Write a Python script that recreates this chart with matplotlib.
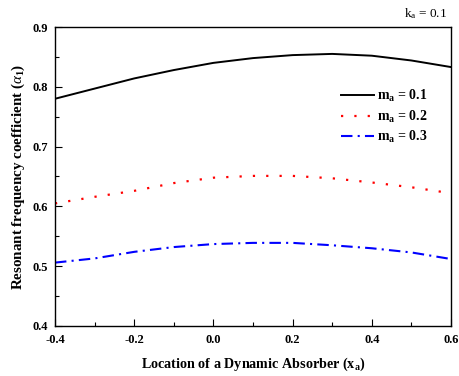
import matplotlib
matplotlib.use("Agg")
import matplotlib.pyplot as plt
from matplotlib.ticker import MultipleLocator, FuncFormatter

plt.rcParams['font.family'] = ['Liberation Serif', 'DejaVu Serif']
plt.rcParams['mathtext.fontset'] = 'custom'
plt.rcParams['mathtext.rm'] = 'Liberation Serif'
plt.rcParams['mathtext.bf'] = 'Liberation Serif:bold'
plt.rcParams['mathtext.it'] = 'Liberation Serif:italic'

x = [-0.4, -0.3, -0.2, -0.1, 0.0, 0.1, 0.2, 0.3, 0.4, 0.5, 0.6]
m01 = [0.780, 0.797, 0.814, 0.828, 0.840, 0.848, 0.853, 0.855, 0.852, 0.844, 0.833]
m02 = [0.605, 0.616, 0.626, 0.639, 0.648, 0.651, 0.651, 0.647, 0.640, 0.632, 0.622]
m03 = [0.506, 0.513, 0.524, 0.532, 0.537, 0.539, 0.539, 0.535, 0.530, 0.523, 0.512]
labels = [r'$\mathbf{m_a}$ = 0.1', r'$\mathbf{m_a}$ = 0.2', r'$\mathbf{m_a}$ = 0.3']

fig = plt.figure(figsize=(4.6, 3.76), dpi=100)
ax = fig.add_axes([55/460, 50/376, 396/460, 299/376])

ax.plot(x, m01, color='black', lw=1.4, linestyle='-', label=labels[0])
ax.plot(x, m02, color='red', lw=1.6, linestyle=(0, (1, 5)), label=labels[1])
ax.plot(x, m03, color='blue', lw=1.5, linestyle=(0, (5.5, 2.5, 1, 2.5)), label=labels[2])

ax.set_xlim(-0.4, 0.6)
ax.set_ylim(0.4, 0.9)
ax.xaxis.set_major_locator(MultipleLocator(0.2))
ax.xaxis.set_minor_locator(MultipleLocator(0.1))
ax.yaxis.set_major_locator(MultipleLocator(0.1))
ax.yaxis.set_minor_locator(MultipleLocator(0.05))
fmt = FuncFormatter(lambda v, p: ('%.1f' % v).replace('-0.0', '0.0'))
ax.xaxis.set_major_formatter(fmt)
ax.yaxis.set_major_formatter(fmt)
ax.tick_params(which='major', direction='in', length=5, width=0.8, labelsize=9)
ax.tick_params(axis='x', which='major', pad=6)
ax.tick_params(axis='y', which='major', pad=5)
ax.tick_params(which='minor', direction='in', length=3, width=0.8)
for lab in ax.get_xticklabels() + ax.get_yticklabels():
    lab.set_fontweight('bold')
for sp in ax.spines.values():
    sp.set_linewidth(1.0)

ax.set_xlabel(r'Location of a Dynamic Absorber (x$_\mathregular{a}$)', fontsize=10.2, fontweight='bold', labelpad=7)
ax.set_ylabel(r'Resonant frequency coefficient ($\alpha_\mathregular{1}$)', fontsize=10.8, fontweight='bold', labelpad=4)

fig.text(0.972, 0.965, r'k$_\mathregular{a}$ = 0.1', ha='right', va='center', fontsize=9.5)

leg = ax.legend(loc='upper right', bbox_to_anchor=(0.972, 0.837), frameon=False,
                fontsize=10, handlelength=2.4, handletextpad=0.2, labelspacing=0.3)
for t in leg.get_texts():
    t.set_fontweight('bold')

fig.savefig('out.png', dpi=100)
